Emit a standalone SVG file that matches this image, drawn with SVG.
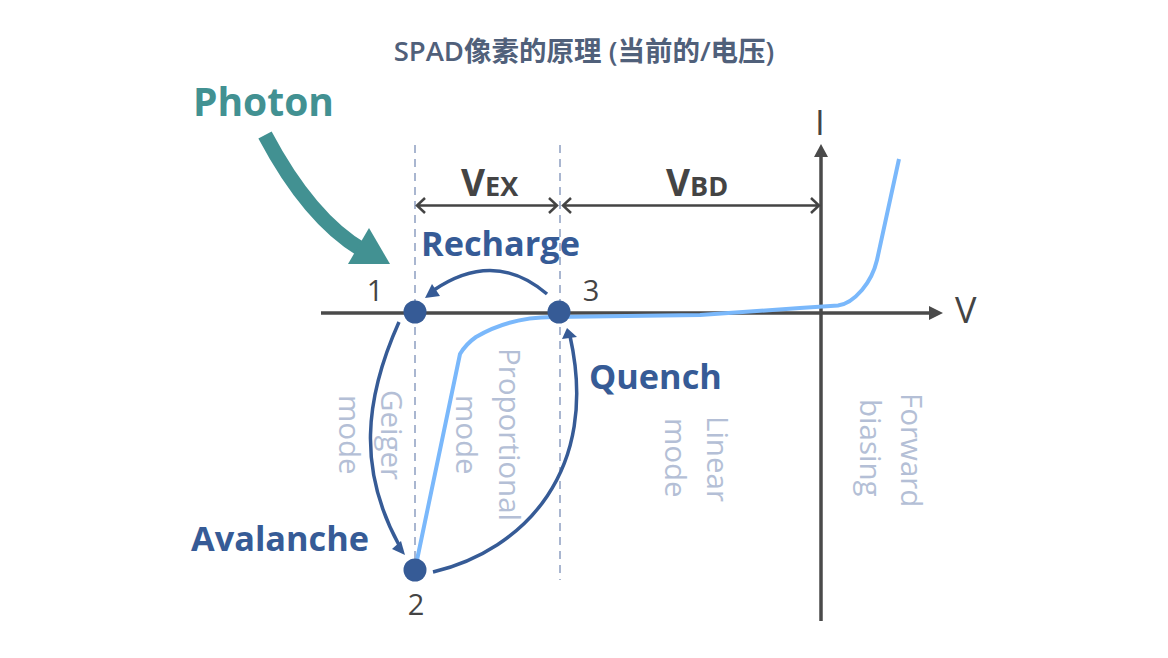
<svg xmlns="http://www.w3.org/2000/svg" width="1168" height="658" viewBox="0 0 1168 658">
<style>
text{font-family:"Open Sans","Noto Sans CJK SC",sans-serif}
.t{font-size:27.500px;font-weight:600;fill:#50607a}
.b{font-size:34.300px;font-weight:700;fill:#365b96}
.n{font-size:29px;fill:#444}
.v{font-weight:700;fill:#444}
.m{font-size:29.500px;fill:#b4bfd6}
.dash{stroke:#a9b6d0;stroke-width:2;stroke-dasharray:8 6;fill:none}
.ax{stroke:#4a4a4a;stroke-width:3.500;fill:none}
.dim{stroke:#444;stroke-width:2.500;fill:none}
.arc{stroke:#365b96;stroke-width:3.500;fill:none}
.node{fill:#365b96}
</style>
<rect width="1168" height="658" fill="#fff"/>
<text class="t" x="584" y="61" text-anchor="middle">SPAD像素的原理 (当前的/电压)</text>
<g id="connectors">
<path class="dash" d="M415 145V580"/>
<path class="dash" d="M560 145V580"/>
<path class="ax" d="M321 313H932"/><path d="M943 313L929 306V320Z" fill="#4a4a4a"/>
<path class="ax" d="M821 621V155"/><path d="M821 144L814 157H828Z" fill="#4a4a4a"/>
<path class="dim" d="M417 205.500H557M425 198L417 205.500L425 213M549 198L557 205.500L549 213"/>
<path class="dim" d="M563 205.500H819M571 198L563 205.500L571 213M811 198L819 205.500L811 213"/>
<path d="M417 560L460 354Q466 344 476 337Q510 317 553 317L700 315L800 308L838 305.500Q850 304 862 290Q873 277 877 260L899 159" fill="none" stroke="#7ab8fb" stroke-width="4"/>
<path d="M265 135Q310 220 364 251" fill="none" stroke="#429192" stroke-width="15"/>
<path d="M348 264H390L369 228Z" fill="#429192"/>
<path class="arc" d="M547 294C512 264 474 263 434 290"/><path d="M425 298L440 296L432 284Z" fill="#365b96"/>
<path class="arc" d="M399 322C364 400 358 470 399 545"/><path d="M405 555L401 541L392 549Z" fill="#365b96"/>
<path class="arc" d="M433 572C525 550 600 470 570 336"/><path d="M567 328L562 339L577 337Z" fill="#365b96"/>
</g>
<g id="node1"><circle class="node" cx="415" cy="312" r="11.500"/><text class="n" x="375" y="301" text-anchor="middle">1</text></g>
<g id="node2"><circle class="node" cx="415" cy="570" r="11.500"/><text class="n" x="416" y="615" text-anchor="middle">2</text></g>
<g id="node3"><circle class="node" cx="559" cy="312" r="11.500"/><text class="n" x="591" y="301" text-anchor="middle">3</text></g>
<text x="193" y="116" font-size="39" font-weight="700" fill="#429192">Photon</text>
<text class="b" x="421" y="256">Recharge</text>
<text class="b" x="589" y="389">Quench</text>
<text class="b" x="191" y="551">Avalanche</text>
<text class="v" x="461" y="196" font-size="37">V<tspan font-size="27">EX</tspan></text>
<text class="v" x="666" y="196" font-size="37">V<tspan font-size="27">BD</tspan></text>
<text x="815" y="135" style="font-size:35px;fill:#444">I</text>
<text x="955" y="323" style="font-size:36px;fill:#444">V</text>
<g>
<text class="m" transform="translate(381 390) rotate(90)">Geiger</text>
<text class="m" transform="translate(339 395) rotate(90)">mode</text>
<text class="m" transform="translate(499 348) rotate(90)">Proportional</text>
<text class="m" transform="translate(456 395) rotate(90)">mode</text>
<text class="m" transform="translate(707 416) rotate(90)">Linear</text>
<text class="m" transform="translate(665 418) rotate(90)">mode</text>
<text class="m" transform="translate(901 393) rotate(90)">Forward</text>
<text class="m" transform="translate(860 399) rotate(90)">biasing</text>
</g>
</svg>
